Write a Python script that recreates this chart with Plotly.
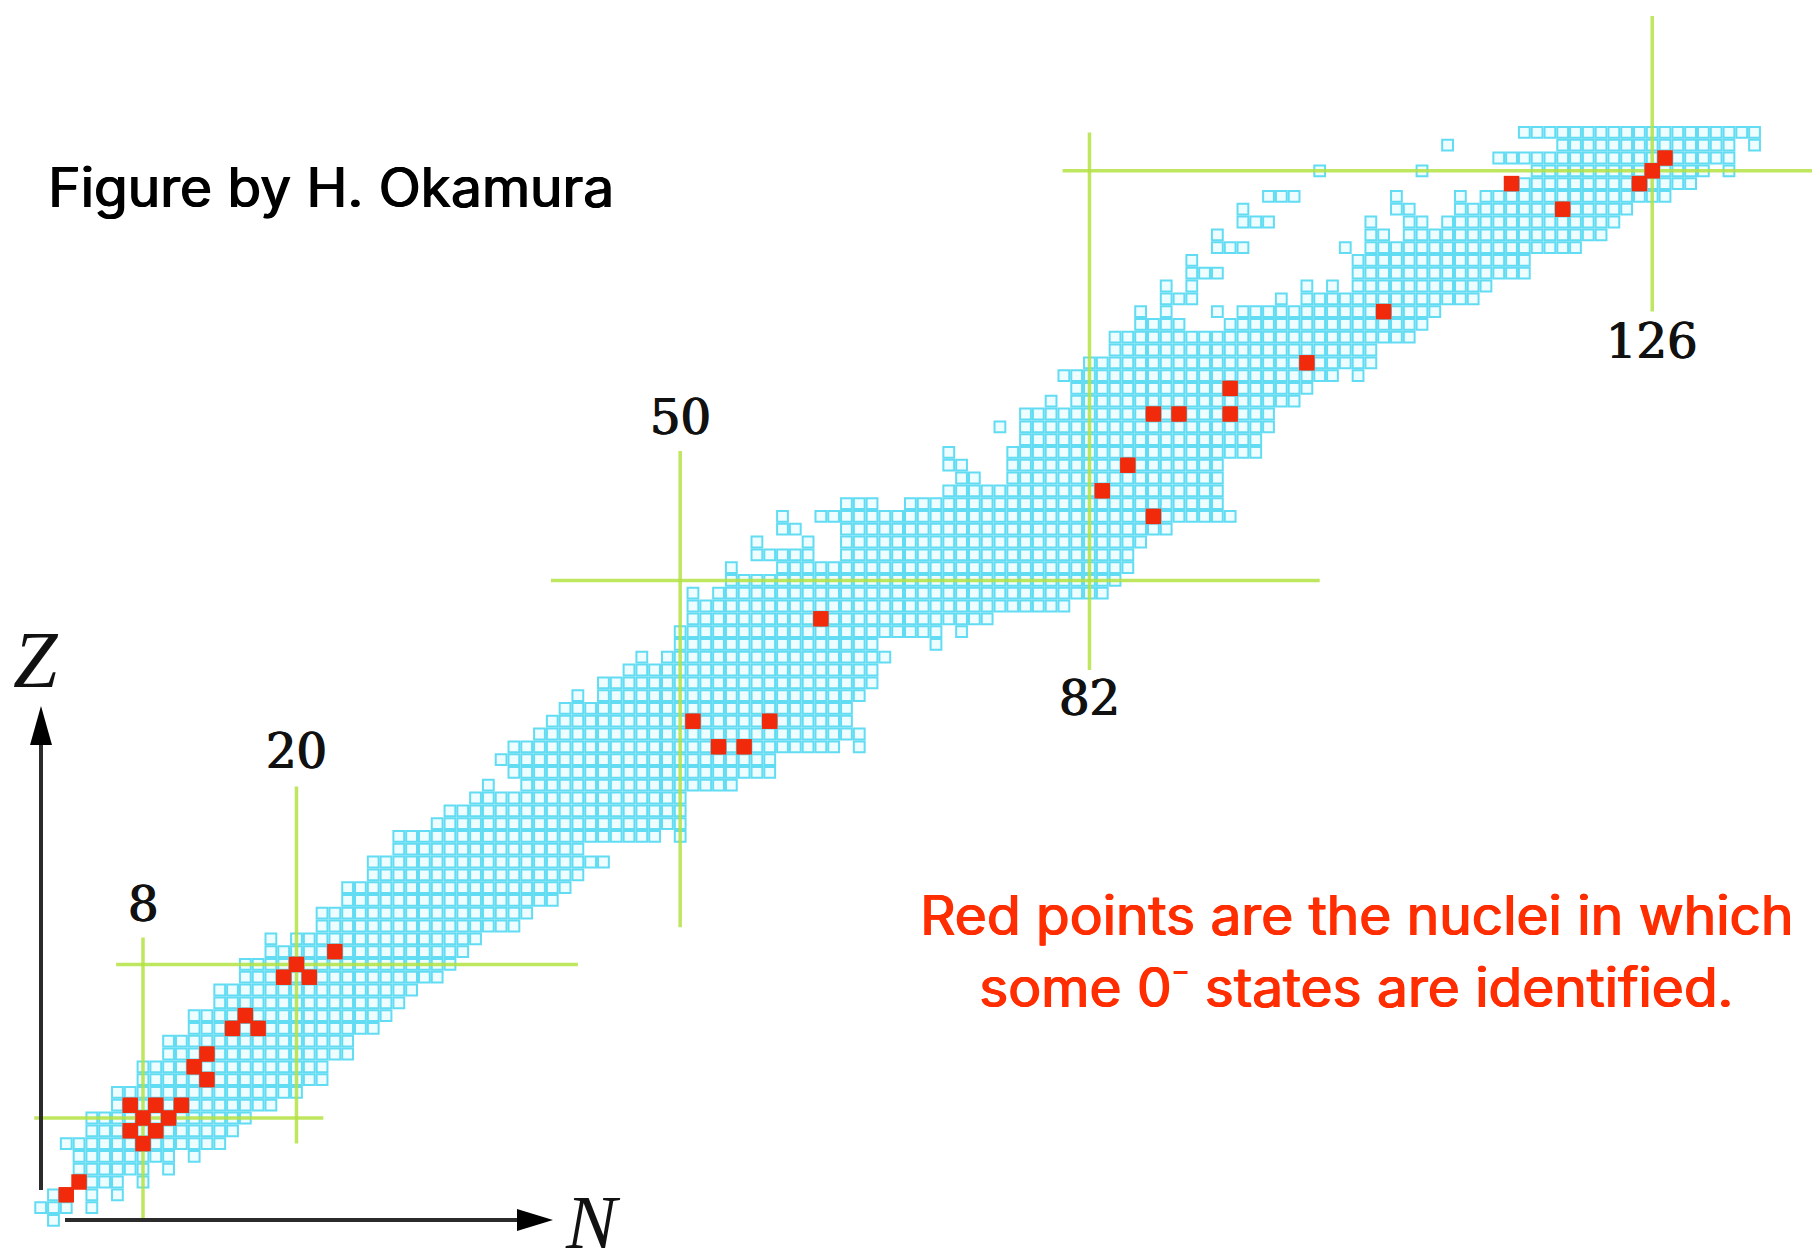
import plotly.graph_objects as go

W, H = 1812, 1248

# proton number of each row and the neutron-number spans present in that row
Z_ROWS = list(range(0, 86))
N_SPANS = [
    [(1, 1)], [(0, 2), (4, 4)], [(1, 2), (4, 4), (6, 6)], [(3, 6), (8, 8)], [(3, 8), (10, 10)],
    [(3, 10), (12, 12)], [(2, 14)], [(4, 15)], [(4, 16)], [(6, 18)],
    [(6, 20)], [(8, 22)], [(8, 22)], [(10, 24)], [(10, 24)],
    [(12, 26)], [(12, 27)], [(14, 28)], [(14, 29)], [(16, 31)],
    [(16, 32)], [(18, 33)], [(18, 18), (20, 34)], [(22, 37)], [(22, 38)],
    [(24, 40)], [(24, 41)], [(26, 42)], [(26, 44)], [(28, 42)],
    [(28, 48), (50, 50)], [(31, 50)], [(32, 50)], [(34, 50)], [(35, 35), (38, 54)],
    [(37, 57)], [(36, 57)], [(37, 62), (64, 64)], [(39, 64)], [(40, 63)],
    [(41, 63)], [(42, 42), (44, 64)], [(44, 65)], [(46, 65)], [(47, 47), (49, 66)],
    [(50, 65), (70, 70)], [(50, 70), (72, 72)], [(51, 74)], [(51, 80)], [(51, 51), (53, 83)],
    [(54, 84)], [(54, 54), (58, 85)], [(56, 60), (63, 85)], [(56, 56), (60, 60), (63, 86)], [(58, 59), (63, 88)],
    [(58, 58), (61, 93)], [(63, 65), (68, 92)], [(71, 92)], [(72, 73), (76, 92)], [(71, 72), (76, 92)],
    [(71, 71), (76, 95)], [(77, 95)], [(75, 75), (77, 96)], [(77, 96)], [(79, 79), (81, 98)],
    [(81, 99)], [(80, 101), (103, 103)], [(82, 104)], [(84, 104)], [(84, 107)],
    [(86, 89), (93, 108)], [(86, 86), (88, 88), (92, 92), (94, 109)], [(88, 90), (97, 97), (99, 112)],
    [(88, 88), (90, 90), (99, 99), (101, 101), (103, 113)], [(90, 92), (103, 116)],
    [(90, 90), (103, 116)], [(92, 94), (102, 102), (104, 120)], [(92, 92), (104, 105), (107, 122)],
    [(94, 96), (104, 104), (107, 108), (110, 123)], [(94, 94), (106, 107), (111, 124)],
    [(96, 98), (106, 106), (111, 111), (113, 127)], [(115, 129)],
    [(100, 100), (108, 108), (117, 130), (132, 132)], [(114, 132)],
    [(110, 110), (119, 132), (134, 134)], [(116, 134)],
]

# nuclei marked red
RED_N = [2, 3, 8, 7, 9, 8, 10, 7, 9, 11, 13, 12, 13, 15, 17, 16, 19, 21, 20, 23,
         51, 53, 55, 57, 61, 87, 83, 85, 87, 89, 93, 93, 99, 105, 115, 119, 125, 126, 127]
RED_Z = [2, 3, 6, 7, 7, 8, 8, 9, 9, 9, 11, 12, 13, 15, 15, 16, 19, 19, 20, 21,
         39, 37, 37, 39, 47, 55, 57, 59, 63, 63, 63, 65, 67, 71, 81, 79, 81, 82, 83]

# magic numbers and the extents of their guide lines
MAGIC_V = [8, 20, 50, 82, 126]
MAGIC_V_Z = [(-0.1, 22.1), (6.0, 33.9), (22.9, 60.1), (43.0, 85.0), (71.0, 94.1)]
MAGIC_H = [8, 20, 50, 82]
MAGIC_H_N = [(-0.5, 22.1), (5.9, 42.0), (39.9, 100.0), (79.9, 138.5)]
MAGIC_LABELS = ["8", "20", "50", "82", "126"]
MAGIC_LABEL_XY = [(143, 904), (296, 751), (680, 417), (1089, 698), (1652, 341)]

CYAN = "#62dcf3"
FILL = "#eefdff"
RED = "#f02a0a"
GREEN = "#b5e244"
INK = "#2b2b2b"

cell_n, cell_z = [], []
for z, spans in zip(Z_ROWS, N_SPANS):
    for a, b in spans:
        for n in range(a, b + 1):
            cell_n.append(n)
            cell_z.append(z)

# axis range chosen so that N and Z grids are laid out as in the figure
x_range = [8 - 143 / 12.79, 8 + (W - 143) / 12.79]
y_range = [8 - (H - 1118) / 12.8, 8 + 1118 / 12.8]

fig = go.Figure()
fig.add_trace(go.Scatter(
    x=cell_n, y=cell_z, mode="markers", hoverinfo="skip",
    marker=dict(symbol="square", size=10.8, color=FILL, line=dict(color=CYAN, width=2)),
))
for n, (z0, z1) in zip(MAGIC_V, MAGIC_V_Z):
    fig.add_trace(go.Scatter(x=[n, n], y=[z0, z1], mode="lines", hoverinfo="skip", opacity=0.85,
                             line=dict(color=GREEN, width=3.5)))
for z, (n0, n1) in zip(MAGIC_H, MAGIC_H_N):
    fig.add_trace(go.Scatter(x=[n0, n1], y=[z, z], mode="lines", hoverinfo="skip", opacity=0.85,
                             line=dict(color=GREEN, width=3.5)))
fig.add_trace(go.Scatter(
    x=RED_N, y=RED_Z, mode="markers", hoverinfo="skip",
    marker=dict(symbol="square", size=15.5, color=RED, line=dict(width=0)),
))


def px(x):
    return x / W


def py(y):
    return 1 - y / H


def tri(points):
    return "M " + " L ".join(f"{px(x)} {py(y)}" for x, y in points) + " Z"


shapes = [
    dict(type="line", xref="paper", yref="paper", x0=px(41), x1=px(41), y0=py(1190), y1=py(740),
         line=dict(color=INK, width=4)),
    dict(type="line", xref="paper", yref="paper", x0=px(65), x1=px(525), y0=py(1220), y1=py(1220),
         line=dict(color=INK, width=4)),
    dict(type="path", xref="paper", yref="paper", path=tri([(41, 706), (30, 745), (52, 745)]),
         fillcolor="#000000", line=dict(width=0)),
    dict(type="path", xref="paper", yref="paper", path=tri([(553, 1220), (517, 1209), (517, 1231)]),
         fillcolor="#000000", line=dict(width=0)),
]

ann = []
for label, (x, y) in zip(MAGIC_LABELS, MAGIC_LABEL_XY):
    ann.append(dict(text=label, x=px(x), y=py(y), xref="paper", yref="paper", showarrow=False,
                    xanchor="center", yanchor="middle",
                    font=dict(family="DejaVu Serif", size=48, color="#111111",
                              shadow="0.7px 0 0 #111111, -0.7px 0 0 #111111")))
ann.append(dict(text="<i>Z</i>", x=px(36), y=py(660), xref="paper", yref="paper", showarrow=False,
                xanchor="center", yanchor="middle",
                font=dict(family="Liberation Serif", size=80, color="#111111")))
ann.append(dict(text="<i>N</i>", x=px(593), y=py(1222), xref="paper", yref="paper", showarrow=False,
                xanchor="center", yanchor="middle",
                font=dict(family="Liberation Serif", size=76, color="#111111")))
ann.append(dict(text="Figure by H. Okamura", x=px(46), y=py(187), xref="paper", yref="paper",
                showarrow=False, xanchor="left", yanchor="middle",
                font=dict(family="Inter", size=55, color="#000000",
                          shadow="1px 0 0 #000000, -0.5px 0 0 #000000")))
ann.append(dict(text="Red points are the nuclei in which", x=px(1356), y=py(915), xref="paper", yref="paper",
                showarrow=False, xanchor="center", yanchor="middle",
                font=dict(family="Inter", size=55, color="#ff2d00",
                          shadow="1px 0 0 #ff2d00, -0.5px 0 0 #ff2d00")))
ann.append(dict(text="some 0<sup>-</sup> states are identified.", x=px(1356), y=py(983), xref="paper", yref="paper",
                showarrow=False, xanchor="center", yanchor="middle",
                font=dict(family="Inter", size=55, color="#ff2d00",
                          shadow="1px 0 0 #ff2d00, -0.5px 0 0 #ff2d00")))

fig.update_layout(
    width=W, height=H, margin=dict(l=0, r=0, t=0, b=0, pad=0),
    paper_bgcolor="white", plot_bgcolor="white", showlegend=False,
    xaxis=dict(range=x_range, visible=False, fixedrange=True),
    yaxis=dict(range=y_range, visible=False, fixedrange=True),
    shapes=shapes, annotations=ann,
)
fig.write_html("out.html", config=dict(displayModeBar=False),
               post_script="document.body.style.margin='0';document.body.style.overflow='hidden';")
